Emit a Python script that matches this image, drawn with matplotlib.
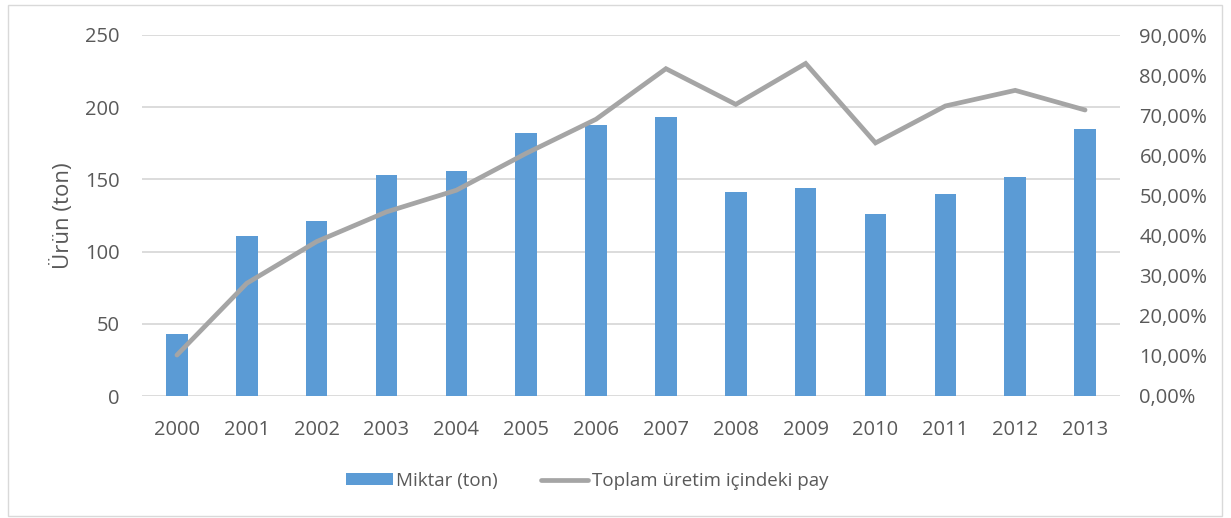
import matplotlib.pyplot as plt
from matplotlib.patches import Rectangle
from matplotlib.ticker import FuncFormatter

# -----------------------------
# Data
# -----------------------------
years = ["2000", "2001", "2002", "2003", "2004", "2005", "2006",
         "2007", "2008", "2009", "2010", "2011", "2012", "2013"]
miktar = [43, 111, 121, 153, 156, 182, 188, 193, 141, 144, 126, 140, 152, 185]
pay = [10.2, 28.1, 38.5, 45.9, 51.3, 60.5, 69.0,
       81.6, 72.7, 82.9, 63.1, 72.3, 76.2, 71.3]   # percent

bar_color = "#5B9BD5"
line_color = "#A5A5A5"
text_color = "#595959"
grid_color = "#D9D9D9"

plt.rcParams["font.family"] = ["Open Sans", "DejaVu Sans"]

fig = plt.figure(figsize=(12.31, 5.18), dpi=100)
W, H = 1231, 518
ax = fig.add_axes([142 / W, 1 - 396 / H, (1120 - 142) / W, (396 - 35) / H])
ax2 = ax.twinx()

x = list(range(len(years)))
bars = ax.bar(x, miktar, width=0.31, color=bar_color, zorder=2, label="Miktar (ton)")
line, = ax2.plot(x, pay, color=line_color, lw=3.4, solid_capstyle="round",
                 solid_joinstyle="miter", label="Toplam üretim içindeki pay")

ax.set_xlim(-0.5, len(years) - 0.5)
ax.set_ylim(0, 250)
ax.set_yticks(range(0, 251, 50))
ax2.set_ylim(0, 90)
ax2.set_yticks(range(0, 91, 10))
ax2.yaxis.set_major_formatter(FuncFormatter(lambda v, p: f"{v:.2f}".replace(".", ",") + "%"))

ax.set_xticks(x)
ax.set_xticklabels(years)
ax.grid(axis="y", color=grid_color, lw=1.3, zorder=0)
ax.set_axisbelow(True)

for a in (ax, ax2):
    for s in a.spines.values():
        s.set_visible(False)
    a.tick_params(length=0, colors=text_color, labelsize=14.5)
ax.tick_params(axis="y", pad=16)
ax.tick_params(axis="x", pad=17)
ax2.tick_params(axis="y", pad=14)

ax.set_ylabel("Ürün (ton)", color=text_color, fontsize=16, labelpad=8)

fig.legend([bars, line], ["Miktar (ton)", "Toplam üretim içindeki pay"],
           loc="center", bbox_to_anchor=(587 / W, 1 - 481 / H), ncol=2,
           frameon=False, fontsize=13.5, labelcolor=text_color,
           handlelength=2.5, handleheight=0.6, handletextpad=0.2, columnspacing=2.3)

# thin outer border like the spreadsheet chart area
fig.patches.append(Rectangle((8 / W, 1 - 516 / H), (1222 - 8) / W, (516 - 5) / H,
                             transform=fig.transFigure, fill=False,
                             edgecolor="#D9D9D9", lw=1))

fig.savefig("out.png", dpi=100)
